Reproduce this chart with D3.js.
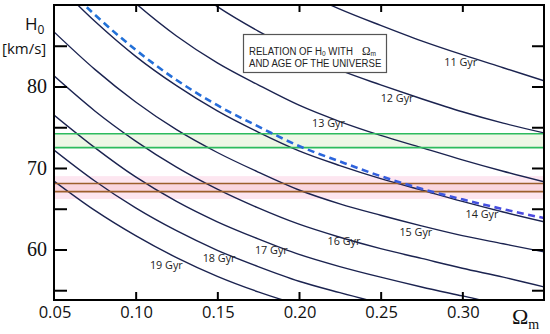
<!DOCTYPE html>
<html>
<head>
<meta charset="utf-8">
<script src="https://cdn.jsdelivr.net/npm/d3@7"></script>
<style>
  html, body { margin: 0; padding: 0; background: #fff; }
  svg { display: block; }
</style>
</head>
<body>
<svg id="chart" width="550" height="334"></svg>
<script>
// Omega_m grid the curves were read at
const omegaM = [0.05, 0.075, 0.10, 0.125, 0.15, 0.175, 0.20, 0.225, 0.25, 0.275, 0.30, 0.325, 0.35];

// H0 along each constant-age curve (values above 90 run off the top)
const h0Age11 = [118.2, 112.0, 106.5, 101.9, 98.0, 94.7, 91.8, 89.5, 87.5, 85.6, 83.9, 82.3, 80.7];
const h0Age12 = [108.3, 102.7, 97.7, 93.4, 89.8, 86.8, 84.2, 82.0, 80.2, 78.5, 76.9, 75.5, 74.3];
const h0Age13 = [100.0, 94.8, 90.2, 86.2, 82.9, 80.2, 77.7, 75.7, 74.0, 72.5, 71.0, 69.6, 68.3];
const h0Age14 = [92.9, 88.0, 83.7, 80.1, 77.0, 74.4, 72.1, 70.3, 68.7, 67.3, 65.9, 64.6, 63.4];
const h0Age15 = [86.7, 82.1, 78.1, 74.7, 71.9, 69.5, 67.3, 65.6, 64.2, 62.9, 61.7, 60.7, 59.7];
const h0Age16 = [81.3, 77.0, 73.3, 70.1, 67.4, 65.1, 63.1, 61.5, 60.1, 58.9, 57.7, 56.6, 55.4];
const h0Age17 = [76.5, 72.5, 68.9, 65.9, 63.4, 61.3, 59.4, 57.9, 56.6, 55.4, 54.3, 53.2, 52.2];
const h0Age18 = [72.2, 68.4, 65.1, 62.3, 59.9, 57.9, 56.1, 54.7, 53.4, 52.3, 51.3, 50.3, 49.3];
const h0Age19 = [68.4, 64.8, 61.7, 59.0, 56.7, 54.8, 53.2, 51.8, 50.6, 49.6, 48.6, 47.6, 46.7];
// blue dashed curve
const h0Dashed = [93.7, 88.8, 84.5, 80.8, 77.7, 75.1, 72.7, 70.8, 69.0, 67.45, 66.15, 64.95, 63.85];

const ages = [11, 12, 13, 14, 15, 16, 17, 18, 19];
const ageCurves = [h0Age11, h0Age12, h0Age13, h0Age14, h0Age15, h0Age16, h0Age17, h0Age18, h0Age19];
// where each "N Gyr" label sits: [Omega_m, H0] of its left baseline
const ageLabelAt = [[0.289, 82.5], [0.25, 78.05], [0.208, 75.0], [0.302, 63.9], [0.2615, 61.6],
  [0.2175, 60.5], [0.173, 59.5], [0.141, 58.5], [0.1087, 57.6]];

// horizontal H0 bands
const greenBand = [72.5, 74.2];
const brownBand = [67.1, 68.1];
const pinkBand = [66.2, 69.0];

const xTicks = [0.10, 0.15, 0.20, 0.25, 0.30];
const xTickLabels = [0.05, 0.10, 0.15, 0.20, 0.25, 0.30];
const yTicks = [55, 60, 65, 70, 75, 80, 85];
const yTickLabels = [60, 70, 80];

let svg = d3.select('#chart');
let x = d3.scaleLinear().domain([0.05, 0.35]).range([54, 544]);
let y = d3.scaleLinear().domain([53.8, 90]).range([300, 5]);

svg.append('defs').append('clipPath').attr('id', 'plotClip')
  .append('rect')
  .attr('x', x(0.05)).attr('y', y(90))
  .attr('width', x(0.35) - x(0.05)).attr('height', y(53.8) - y(90));

let grad = svg.select('defs').append('linearGradient')
  .attr('id', 'dashGrad')
  .attr('gradientUnits', 'userSpaceOnUse')
  .attr('x1', x(0.05)).attr('x2', x(0.35)).attr('y1', 0).attr('y2', 0);
grad.append('stop').attr('offset', '0%').attr('stop-color', '#1f74d6');
grad.append('stop').attr('offset', '55%').attr('stop-color', '#2a66dc');
grad.append('stop').attr('offset', '100%').attr('stop-color', '#4f48e0');

let plot = svg.append('g').attr('clip-path', 'url(#plotClip)');

function band(lo, hi, fill) {
  plot.append('rect')
    .attr('x', x(0.05)).attr('width', x(0.35) - x(0.05))
    .attr('y', y(hi)).attr('height', y(lo) - y(hi))
    .attr('fill', fill);
}
function hline(v, color) {
  plot.append('line')
    .attr('x1', x(0.05)).attr('x2', x(0.35))
    .attr('y1', y(v)).attr('y2', y(v))
    .attr('stroke', color).attr('stroke-width', 1.6);
}

band(pinkBand[0], pinkBand[1], '#fde6f0');
band(brownBand[0], brownBand[1], '#fad6df');
band(greenBand[0], greenBand[1], '#eef7e6');

let line = d3.line()
  .x((d, i) => x(omegaM[i]))
  .y(d => y(d))
  .curve(d3.curveMonotoneX);

plot.selectAll('path.age').data(ageCurves).enter().append('path')
  .attr('class', 'age')
  .attr('d', line)
  .attr('fill', 'none')
  .attr('stroke', '#1b2350')
  .attr('stroke-width', 1.4);

hline(greenBand[0], '#2dbb5e');
hline(greenBand[1], '#2dbb5e');
hline(brownBand[0], '#9c5f2c');
hline(brownBand[1], '#9c5f2c');

plot.append('path')
  .attr('d', line(h0Dashed))
  .attr('fill', 'none')
  .attr('stroke', 'url(#dashGrad)')
  .attr('stroke-width', 2.6)
  .attr('stroke-dasharray', '7,4.5');

svg.selectAll('text.age').data(ages).enter().append('text')
  .attr('class', 'age')
  .attr('x', (d, i) => x(ageLabelAt[i][0]))
  .attr('y', (d, i) => y(ageLabelAt[i][1]))
  .attr('font-family', '"Open Sans", sans-serif')
  .attr('font-size', 10.8)
  .attr('fill', '#222')
  .text(d => d + ' Gyr');

// frame
svg.append('rect')
  .attr('x', x(0.05)).attr('y', y(90))
  .attr('width', x(0.35) - x(0.05)).attr('height', y(53.8) - y(90))
  .attr('fill', 'none').attr('stroke', '#000').attr('stroke-width', 2);

let yLeft = svg.append('g').attr('transform', 'translate(' + x(0.05) + ',0)')
  .call(d3.axisLeft(y).tickValues(yTicks).tickSizeInner(-13).tickSizeOuter(0).tickPadding(7)
    .tickFormat(d => yTickLabels.includes(d) ? d : ''));
let yRight = svg.append('g').attr('transform', 'translate(' + x(0.35) + ',0)')
  .call(d3.axisRight(y).tickValues(yTicks).tickSizeInner(-12).tickSizeOuter(0).tickFormat(''));
let xBottom = svg.append('g').attr('transform', 'translate(0,' + y(53.8) + ')')
  .call(d3.axisBottom(x).tickValues(xTicks).tickSizeInner(-8).tickSizeOuter(0).tickFormat(''));
let xTop = svg.append('g').attr('transform', 'translate(0,' + y(90) + ')')
  .call(d3.axisTop(x).tickValues(xTicks).tickSizeInner(-7).tickSizeOuter(0).tickFormat(''));

[yLeft, yRight, xBottom, xTop].forEach(g => {
  g.select('.domain').remove();
  g.selectAll('.tick line').attr('stroke', '#000').attr('stroke-width', 2);
});
yLeft.selectAll('text')
  .attr('font-family', '"Liberation Serif", serif')
  .attr('font-size', 20)
  .attr('fill', '#111');

svg.append('g').selectAll('text').data(xTickLabels).enter().append('text')
  .attr('x', d => x(d) + 1)
  .attr('y', 318)
  .attr('text-anchor', 'middle')
  .attr('font-family', '"Open Sans", sans-serif')
  .attr('font-size', 16.5)
  .attr('fill', '#111')
  .text(d3.format('.2f'));

// axis titles
let yTitle = svg.append('text')
  .attr('x', 25).attr('y', 30)
  .attr('font-family', '"Open Sans", sans-serif')
  .attr('font-size', 17)
  .attr('fill', '#111');
yTitle.append('tspan').text('H');
yTitle.append('tspan').attr('font-size', 12).attr('dy', 4).text('0');
svg.append('text')
  .attr('x', 2).attr('y', 54)
  .attr('font-family', '"Open Sans", sans-serif')
  .attr('font-size', 15)
  .attr('fill', '#111')
  .text('[km/s]');

let xTitle = svg.append('text')
  .attr('x', 512).attr('y', 324)
  .attr('font-family', '"Liberation Serif", serif')
  .attr('font-size', 22)
  .attr('fill', '#111');
xTitle.append('tspan').text('Ω');
xTitle.append('tspan').attr('font-size', 14).attr('dy', 5).text('m');

// legend box, both lines in one text element, squeezed sideways like a narrow face
svg.append('rect')
  .attr('x', 243.5).attr('y', 34.5).attr('width', 143).attr('height', 38)
  .attr('fill', '#fff').attr('stroke', '#555').attr('stroke-width', 1.2);
let squeeze = 0.875;
let legend = svg.append('text')
  .attr('transform', 'translate(249,0) scale(' + squeeze + ',1)')
  .attr('x', 0).attr('y', 55)
  .attr('font-family', '"Liberation Sans", sans-serif')
  .attr('font-size', 11)
  .attr('fill', '#222');
legend.append('tspan').text('RELATION OF H');
legend.append('tspan').attr('font-size', 7.5).attr('dy', 1.5).text('0');
legend.append('tspan').attr('dy', -1.5).text(' WITH');
legend.append('tspan').attr('x', (362 - 249) / squeeze).attr('font-family', '"Liberation Serif", serif')
  .attr('font-size', 13).text('Ω');
legend.append('tspan').attr('font-size', 7.5).attr('dy', 1.5).text('m');
legend.append('tspan').attr('x', 0).attr('dy', 10.5).text('AND AGE OF THE UNIVERSE');
</script>
</body>
</html>
